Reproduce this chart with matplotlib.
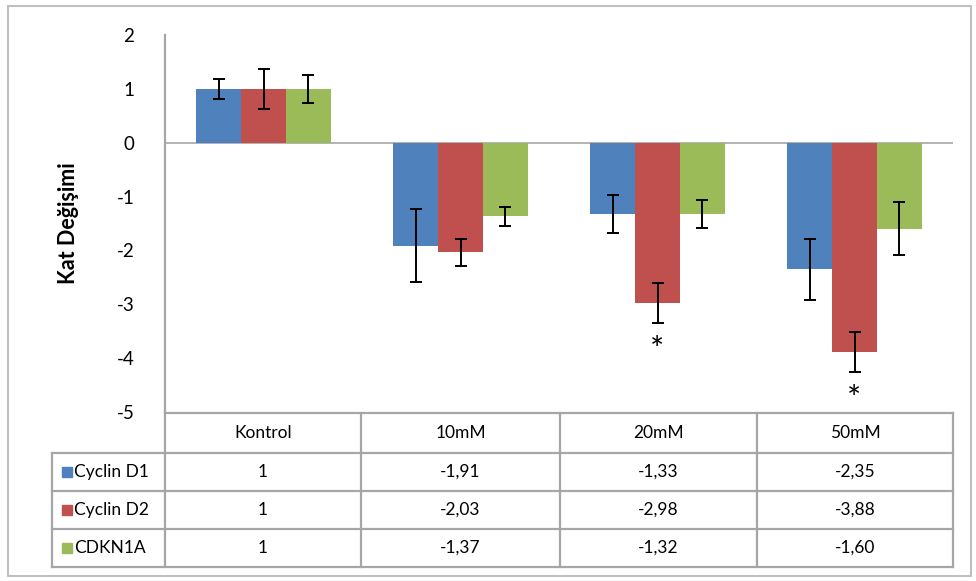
import numpy as np
import matplotlib.pyplot as plt
from matplotlib.lines import Line2D
from matplotlib.patches import Rectangle

plt.rcParams['font.family'] = ['Lato', 'DejaVu Sans']
plt.rcParams['axes.unicode_minus'] = False

groups = ['Kontrol', '10mM', '20mM', '50mM']
series = ['Cyclin D1', 'Cyclin D2', 'CDKN1A']
cyclin_d1 = [1, -1.91, -1.33, -2.35]
cyclin_d2 = [1, -2.03, -2.98, -3.88]
cdkn1a = [1, -1.37, -1.32, -1.60]
err_d1 = [0.18, 0.67, 0.35, 0.57]
err_d2 = [0.37, 0.25, 0.37, 0.37]
err_cdkn1a = [0.26, 0.18, 0.26, 0.49]
labels = [['1', '-1,91', '-1,33', '-2,35'],
          ['1', '-2,03', '-2,98', '-3,88'],
          ['1', '-1,37', '-1,32', '-1,60']]
stars = [(2, 1), (3, 1)]  # (group, series) marked significant
colors = ['#4F81BD', '#C0504D', '#9BBB59']
grid_c = '#A6A6A6'

W, H = 976, 581
fig = plt.figure(figsize=(W / 100, H / 100), dpi=100)

def fx(px):
    return px / W

def fy(py):
    return 1 - py / H

x0, x1, ytop, ybot = 165, 953, 35, 412
ax = fig.add_axes([fx(x0), fy(ybot), fx(x1) - fx(x0), fy(ytop) - fy(ybot)])

values = [cyclin_d1, cyclin_d2, cdkn1a]
errs = [err_d1, err_d2, err_cdkn1a]
x = np.arange(len(groups))
bw = 0.228
for i in range(3):
    pos = x + (i - 1) * bw
    ax.bar(pos, values[i], bw, color=colors[i], zorder=2)
    ax.errorbar(pos, values[i], yerr=errs[i], fmt='none', ecolor='black',
                elinewidth=1.4, capsize=4, capthick=1.4, zorder=3)

for g, s in stars:
    ax.text(x[g] + (s - 1) * bw, values[s][g] - errs[s][g] - 0.52, '*',
            ha='center', va='center', fontsize=24)

ax.axhline(0, color=grid_c, lw=1.2, zorder=1)
ax.set_xlim(-0.5, 3.5)
ax.set_ylim(-5, 2)
ax.set_yticks(range(-5, 3))
ax.set_xticks([])
for sp in ['top', 'right', 'bottom']:
    ax.spines[sp].set_visible(False)
ax.spines['left'].set_color(grid_c)
ax.spines['left'].set_linewidth(1.2)
ax.tick_params(axis='y', length=0, pad=22, labelsize=13.5)
ax.set_ylabel('Kat Değişimi', fontsize=15.5, fontweight='bold', labelpad=27)

# data table
col_x = [165, 361, 560, 757, 953]
row_y = [413, 453, 491, 529, 567]
left_x = 52

def hline(y, xa, xb):
    fig.add_artist(Line2D([fx(xa), fx(xb)], [fy(y), fy(y)], color=grid_c, lw=1.6))

def vline(xp, ya, yb):
    fig.add_artist(Line2D([fx(xp), fx(xp)], [fy(ya), fy(yb)], color=grid_c, lw=1.6))

hline(row_y[0], col_x[0], col_x[-1])
for y in row_y[1:]:
    hline(y, left_x, col_x[-1])
vline(left_x, row_y[1], row_y[-1])
for xp in col_x:
    vline(xp, row_y[0], row_y[-1])
vline(col_x[0], ytop, row_y[0])

for j, g in enumerate(groups):
    cx = (col_x[j] + col_x[j + 1]) / 2
    fig.text(fx(cx), fy((row_y[0] + row_y[1]) / 2), g, ha='center', va='center', fontsize=12.5)
    for i in range(3):
        fig.text(fx(cx), fy((row_y[i + 1] + row_y[i + 2]) / 2), labels[i][j],
                 ha='center', va='center', fontsize=12.5)

for i, s in enumerate(series):
    cy = (row_y[i + 1] + row_y[i + 2]) / 2
    fig.add_artist(Rectangle((fx(62), fy(cy + 5)), fx(10), fy(0) - fy(10),
                             color=colors[i], transform=fig.transFigure))
    fig.text(fx(74), fy(cy), s, ha='left', va='center', fontsize=12.5)

# outer border
fig.add_artist(Rectangle((fx(8), fy(576)), fx(963), fy(0) - fy(570), fill=False,
                         edgecolor='#BFBFBF', lw=1.5, transform=fig.transFigure))

fig.savefig('out.png', dpi=100)
